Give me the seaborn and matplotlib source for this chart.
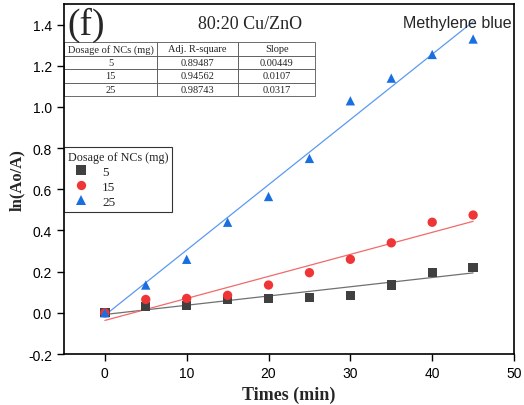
import numpy as np
import pandas as pd
import matplotlib
matplotlib.use("Agg")
import matplotlib.pyplot as plt
import seaborn as sns

# ---- data ----
times = [0, 5, 10, 15, 20, 25, 30, 35, 40, 45]
dosages = ["5", "15", "25"]
y_5 = [0.0, 0.03, 0.035, 0.065, 0.07, 0.075, 0.085, 0.135, 0.195, 0.22]
y_15 = [0.0, 0.065, 0.07, 0.085, 0.135, 0.195, 0.26, 0.34, 0.44, 0.475]
y_25 = [0.0, 0.135, 0.26, 0.44, 0.565, 0.75, 1.03, 1.14, 1.255, 1.33]
adj_r2 = ["0.89487", "0.94562", "0.98743"]
slopes = [0.00449, 0.0107, 0.0317]
slope_labels = ["0.00449", "0.0107", "0.0317"]
intercepts = [-0.008, -0.037, -0.012]
fit_range = [0, 45]

sns.set_theme(style="white")
plt.rcParams["font.family"] = ["Liberation Sans", "DejaVu Sans"]

df = pd.DataFrame({
    "Time": times * 3,
    "Value": y_5 + y_15 + y_25,
    "Dosage": sum([[d] * len(times) for d in dosages], []),
})
fit_rows = []
for d, s, b in zip(dosages, slopes, intercepts):
    for x in fit_range:
        fit_rows.append({"Time": x, "Value": s * x + b, "Dosage": d})
fit_df = pd.DataFrame(fit_rows)

marker_colors = {"5": "#404040", "15": "#ef3535", "25": "#1a6fe0"}
line_colors = {"5": "#707070", "15": "#f26a6a", "25": "#5a9af0"}
markers = {"5": "s", "15": "o", "25": "^"}

fig = plt.figure(figsize=(5.24, 4.06), dpi=100)
ax = fig.add_axes([0.122, 0.1256, 0.859, 0.862])

sns.lineplot(data=fit_df, x="Time", y="Value", hue="Dosage", hue_order=dosages,
             palette=line_colors, linewidth=0.9, legend=False, ax=ax)
sns.scatterplot(data=df, x="Time", y="Value", hue="Dosage", style="Dosage",
                hue_order=dosages, style_order=dosages, palette=marker_colors,
                markers=markers, s=45, edgecolor="none", linewidth=0, ax=ax, zorder=3)

ax.set_xlim(-5, 50)
ax.set_ylim(-0.2, 1.5)
ax.set_xticks([0, 10, 20, 30, 40, 50])
ax.set_yticks([-0.2, 0.0, 0.2, 0.4, 0.6, 0.8, 1.0, 1.2, 1.4])
ax.set_yticklabels(["-0.2", "0.0", "0.2", "0.4", "0.6", "0.8", "1.0", "1.2", "1.4"])
ax.tick_params(axis="both", direction="out", length=5, width=1, labelsize=10,
               colors="black", bottom=True, left=True, top=False, right=False)
for sp in ax.spines.values():
    sp.set_color("black")
    sp.set_linewidth(1.2)

ax.set_xlabel("Times (min)", fontsize=13, fontweight="bold", family="Liberation Serif")
ax.set_ylabel("ln(Ao/A)", fontsize=12, fontweight="bold", family="Liberation Serif",
              labelpad=2)

# legend
handles, labels = ax.get_legend_handles_labels()
leg = ax.legend(handles, labels, title="Dosage of NCs (mg)", loc="upper left",
                bbox_to_anchor=(0.0, 0.591), borderaxespad=0, frameon=True,
                fancybox=False, edgecolor="black", prop={"family": "Liberation Serif", "size": 9.5},
                title_fontproperties={"family": "Liberation Serif", "size": 8.7},
                handletextpad=0.6, labelspacing=0.2, borderpad=0.3,
                markerscale=1.0)
leg.get_frame().set_linewidth(0.8)
leg._legend_box.align = "left"

# texts
ax.text(0.008, 0.993, "(f)", transform=ax.transAxes, fontsize=27,
        family="Liberation Serif", va="top", ha="left")
ax.text(0.413, 0.945, "80:20 Cu/ZnO", transform=ax.transAxes, fontsize=13,
        family="Liberation Serif", va="center", ha="center")
ax.text(0.995, 0.947, "Methylene blue", transform=ax.transAxes, fontsize=11.5,
        family="Liberation Sans", va="center", ha="right")

# table
cell_text = [[d, r, s] for d, r, s in zip(dosages, adj_r2, slope_labels)]
tbl = ax.table(cellText=cell_text, colLabels=["Dosage of NCs (mg)", "Adj. R-square", "Slope"],
               cellLoc="center", colWidths=[93, 81, 77],
               bbox=[0.0, 0.737, 0.558, 0.154])
tbl.auto_set_font_size(False)
for (r, c), cell in tbl.get_celld().items():
    cell.set_linewidth(0.6)
    cell.set_edgecolor("#555555")
    cell.set_facecolor("white")
    cell.get_text().set_fontsize(7.5)
    cell.get_text().set_fontfamily("Liberation Serif")

fig.savefig("out.png", dpi=100)
